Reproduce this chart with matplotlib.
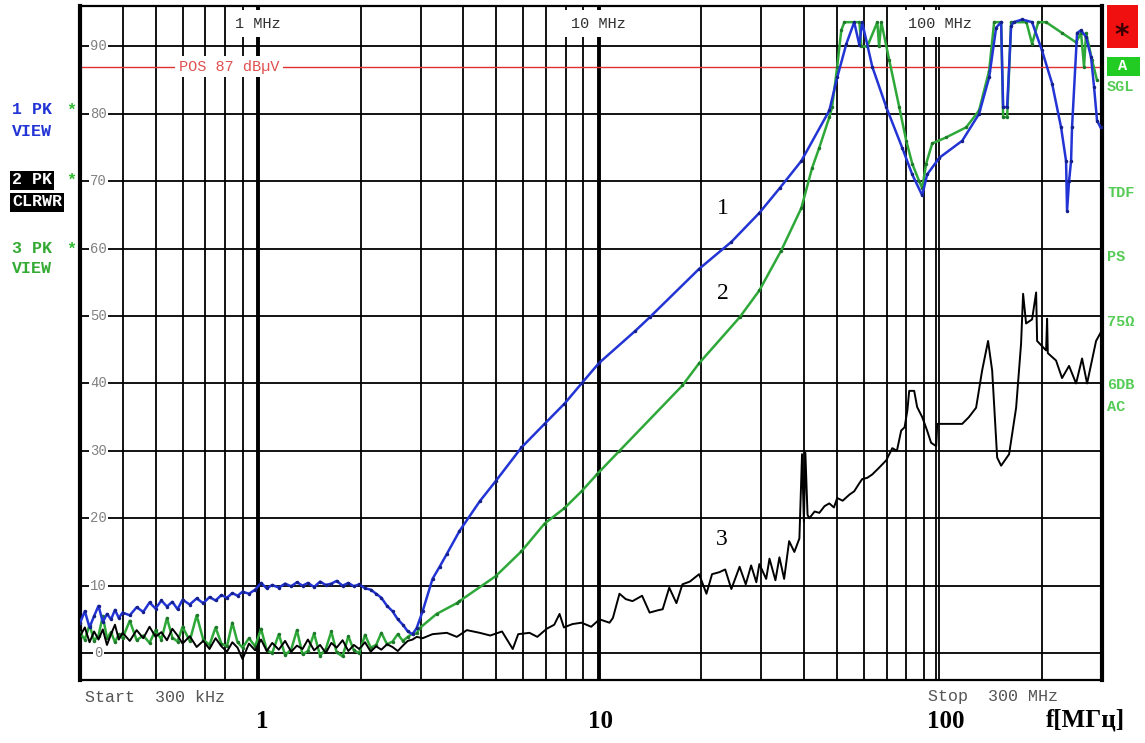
import matplotlib.pyplot as plt
from matplotlib.patches import Rectangle

# ---- trace data (frequency in MHz, level in dBuV) ----
f_low = [0.30, 0.31, 0.32, 0.33, 0.34, 0.35, 0.36, 0.37, 0.38, 0.39, 0.40, 0.42,
         0.44, 0.46, 0.48, 0.50, 0.52, 0.54, 0.56, 0.58, 0.60, 0.63, 0.66, 0.69,
         0.72, 0.75, 0.78, 0.81, 0.84, 0.87, 0.90, 0.94, 0.98, 1.02, 1.06, 1.10,
         1.15, 1.20, 1.25, 1.30, 1.35, 1.40, 1.46, 1.52, 1.58, 1.64, 1.70, 1.77,
         1.84, 1.91, 1.98, 2.06, 2.14, 2.22, 2.30, 2.39, 2.48, 2.57, 2.66, 2.75, 2.84]

blue_low = [4.5, 6.2, 3.8, 5.5, 7.0, 4.6, 5.8, 5.0, 6.4, 5.2, 6.0, 5.6,
            6.8, 6.1, 7.5, 6.6, 7.8, 6.9, 7.6, 6.5, 7.9, 7.2, 8.1, 7.4,
            8.3, 7.8, 8.6, 8.2, 8.9, 8.5, 9.1, 8.8, 9.4, 10.4, 9.6, 10.1,
            9.7, 10.3, 9.9, 10.5, 10.0, 10.4, 9.8, 10.6, 10.1, 10.3, 10.7, 10.0,
            10.4, 9.9, 10.2, 9.6, 9.4, 8.8, 8.2, 7.0, 6.2, 5.0, 4.2, 3.2, 2.8]

green_low = [3.0, 2.0, 4.2, 1.8, 2.6, 5.5, 2.2, 3.1, 1.6, 2.8, 2.2, 4.8,
             1.9, 2.6, 1.5, 3.4, 2.0, 5.2, 2.3, 1.7, 3.9, 1.8, 5.6, 2.0,
             1.2, 3.8, 1.4, 1.0, 4.5, 1.6, 0.8, 2.2, 1.0, 3.6, 0.4, 0.0,
             2.8, -0.3, 0.5, 3.4, -0.2, 0.3, 2.9, -0.4, 0.6, 3.2, 0.1, -0.5,
             2.5, 0.4, 0.0, 2.7, 0.8, 1.2, 3.0, 1.3, 1.7, 2.8, 1.8, 2.4, 2.9]

black_low = [2.5, 3.8, 1.6, 3.2, 2.0, 3.5, 1.2, 2.8, 4.2, 2.0, 3.0, 1.8,
             3.4, 2.2, 3.9, 2.4, 3.1, 1.9, 3.6, 2.6, 1.4, 2.5, 0.9, 1.8,
             0.6, 2.2, 1.0, 0.2, 1.6, 0.8, -0.9, 1.4, 0.4, 2.0, 0.3, 1.5,
             0.5, 1.8, 0.2, 1.1, 0.6, 2.0, 0.4, 1.2, 0.0, 1.5, 0.8, 1.9,
             0.3, 1.2, 0.6, 1.6, 0.2, 1.0, 0.5, 1.3, 0.9, 0.3, 1.1, 1.8, 2.0]

f_blue = [2.92, 3.04, 3.25, 3.41, 3.58, 3.90, 4.47, 4.98, 5.93, 6.93, 7.93, 8.90,
          10.0, 12.8, 14.1, 19.7, 24.5, 29.6, 34.0, 39.3, 47.5, 50.1, 53.3, 56.2,
          58.2, 59.3, 63.5, 69.8, 77.7, 83.2, 89.0, 92.0, 100.0, 116.6, 130.7, 139.9,
          146.7, 151.7, 153.8, 158.0, 162.3, 165.0, 175.0, 187.0, 200.0, 214.1, 227.5, 235.3,
          236.9, 240.1, 243.4, 245.0, 253.5, 260.4, 269.4, 278.6, 284.3, 290.1, 297.0]
blue_high = [3.7, 6.2, 11.0, 12.8, 14.7, 18.1, 22.5, 25.5, 30.5, 34.0, 37.0, 40.0,
             43.0, 47.8, 49.8, 57.0, 61.0, 65.3, 69.0, 73.0, 80.5, 85.4, 90.4, 93.6,
             90.2, 93.6, 87.0, 81.0, 75.0, 71.0, 67.9, 71.0, 73.5, 76.0, 80.0, 85.4,
             92.8, 93.6, 81.0, 81.0, 93.0, 93.6, 94.0, 93.6, 89.4, 84.5, 78.0, 73.0,
             65.6, 70.0, 73.0, 78.0, 92.0, 92.4, 91.4, 88.4, 84.0, 79.0, 78.0]

f_green = [2.92, 2.98, 3.34, 3.83, 3.90, 4.98, 5.93, 6.93, 7.93, 8.90, 9.91, 11.5,
           17.6, 19.7, 25.9, 29.6, 34.3, 39.3, 42.3, 44.4, 47.5, 48.4, 50.1, 51.5,
           52.6, 58.2, 59.0, 61.4, 65.7, 66.5, 67.5, 71.2, 76.2, 79.9, 83.2, 87.2,
           89.0, 91.4, 95.2, 104.6, 119.8, 130.7, 139.9, 144.7, 151.7, 153.8, 158.0, 162.3,
           180.0, 187.0, 195.0, 205.6, 229.0, 251.8, 260.4, 265.7, 269.4, 280.5, 290.0]
green_high = [2.9, 3.7, 5.8, 7.4, 7.7, 11.4, 15.1, 19.2, 21.5, 24.0, 26.6, 30.0,
              39.7, 43.0, 49.8, 53.8, 59.7, 66.0, 72.0, 75.0, 79.5, 81.0, 87.0, 92.4,
              93.6, 93.6, 90.0, 90.0, 93.6, 90.0, 93.6, 88.0, 81.0, 76.0, 72.6, 70.0,
              69.0, 72.6, 75.6, 76.5, 78.0, 80.5, 86.4, 93.6, 93.6, 79.5, 79.5, 93.6,
              93.6, 90.4, 93.6, 93.6, 92.0, 90.6, 92.0, 87.0, 92.0, 88.0, 85.0]

f_black = [2.92, 3.04, 3.25, 3.58, 3.83, 4.1, 4.47, 4.8, 5.2, 5.59, 5.8, 6.26,
           6.6, 7.03, 7.4, 7.67, 7.9, 8.37, 8.9, 9.5, 10.05, 10.75, 11.0, 11.5,
           12.0, 12.56, 13.4, 14.1, 14.8, 15.4, 16.1, 16.9, 17.6, 18.5, 19.7, 20.7,
           21.5, 22.6, 23.5, 24.5, 25.9, 27.0, 28.0, 29.0, 29.6, 31.0, 31.7, 33.0,
           33.9, 35.0, 36.2, 37.5, 38.8, 39.5, 40.0, 40.4, 41.0, 41.5, 43.0, 44.4,
           46.0, 47.5, 49.0, 50.1, 52.0, 54.4, 56.2, 58.2, 59.3, 61.4, 63.5, 66.5,
           69.8, 72.7, 75.0, 77.2, 79.0, 80.5, 81.5, 84.3, 86.0, 89.0, 92.0, 94.5,
           97.8, 98.5, 104.6, 116.6, 122.0, 128.1, 133.4, 138.9, 142.8, 147.7, 151.7, 160.1,
           167.9, 173.6, 176.0, 179.6, 187.0, 192.2, 193.5, 205.6, 207.0, 208.0, 219.9, 229.0,
           240.1, 251.8, 262.2, 271.2, 284.3, 288.2, 297.0]
black_high = [2.4, 2.2, 2.8, 3.0, 2.4, 3.4, 3.0, 2.6, 3.2, 0.6, 2.8, 3.0,
              2.4, 3.6, 4.2, 5.8, 3.8, 4.3, 4.5, 3.9, 5.0, 4.5, 5.2, 8.8,
              8.0, 7.7, 8.5, 6.0, 6.3, 6.5, 9.7, 7.4, 10.2, 10.6, 11.7, 8.8,
              11.7, 12.0, 12.4, 9.5, 12.8, 10.2, 13.0, 10.5, 13.2, 11.0, 14.0, 10.8,
              14.2, 11.0, 16.6, 15.0, 17.0, 29.5, 19.5, 29.7, 20.5, 20.0, 21.0, 20.8,
              21.8, 22.2, 21.6, 23.0, 22.6, 23.5, 24.0, 25.2, 25.8, 26.0, 26.5, 27.5,
              28.6, 30.4, 30.0, 33.0, 33.5, 36.0, 38.9, 38.9, 36.5, 35.0, 33.0, 31.2,
              30.7, 34.0, 34.0, 34.0, 35.0, 36.4, 41.9, 46.3, 41.9, 29.0, 27.8, 29.5,
              36.4, 45.9, 53.3, 48.9, 49.5, 53.5, 46.3, 44.9, 49.6, 44.5, 43.4, 40.8,
              42.6, 40.0, 43.7, 40.0, 44.9, 46.3, 47.5]

minor_grid = [0.4, 0.5, 0.6, 0.7, 0.8, 0.9, 2, 3, 4, 5, 6, 7, 8, 9,
              20, 30, 40, 50, 60, 70, 80, 90, 98, 100, 200]
major_grid = [1, 10]
y_grid = [0, 10, 20, 30, 40, 50, 60, 70, 80, 90]
decades = [1, 10, 100]
ref_level = 87

BLUE = '#2234d4'
GREEN = '#2fa83a'
W, H = 1145, 743

fig = plt.figure(figsize=(W / 100, H / 100), dpi=100)
ax = fig.add_axes([80 / W, 63 / H, 1022 / W, 674 / H])
ax.set_xscale('log')
ax.set_xlim(0.3, 300)
ax.set_ylim(-4, 96)
ax.xaxis.set_major_locator(plt.NullLocator())
ax.xaxis.set_minor_locator(plt.NullLocator())
ax.yaxis.set_major_locator(plt.NullLocator())

for s in ['left', 'right']:
    ax.spines[s].set_linewidth(3)
for s in ['top', 'bottom']:
    ax.spines[s].set_linewidth(1.6)

for f in minor_grid:
    ax.axvline(f, color='black', lw=1.3, zorder=1)
for f in major_grid:
    ax.axvline(f, color='black', lw=2.8, zorder=1)
for v in y_grid:
    ax.axhline(v, color='black', lw=1.3, zorder=1)
    ax.text(0.34, v, str(v), color='#808080', fontsize=10, family='Liberation Mono',
            ha='center', va='center', zorder=2,
            bbox=dict(boxstyle='square,pad=0.1', fc='white', ec='none'))

ax.axhline(ref_level, color='#e03030', lw=1.0, zorder=2)
ax.text(0.82, ref_level, 'POS 87 dB\u00b5V', color='#e05050', fontsize=11,
        family='Liberation Mono', ha='center', va='center', zorder=2,
        bbox=dict(boxstyle='square,pad=0.25', fc='white', ec='none'))

for d in decades:
    ax.text(d, 93.4, f'{d} MHz', color='#303030', fontsize=11, family='Liberation Mono',
            ha='center', va='center', zorder=2,
            bbox=dict(boxstyle='square,pad=0.4', fc='white', ec='none'))

# traces
ax.plot(f_low + f_green, green_low + green_high, color=GREEN, lw=1.8, zorder=3,
        marker='.', ms=3, mec='#1e7a2a', mfc='#1e7a2a')
ax.plot(f_low + f_black, black_low + black_high, color='black', lw=1.4, zorder=4)
ax.plot(f_low + f_blue, blue_low + blue_high, color=BLUE, lw=1.8, zorder=5,
        marker='.', ms=3, mec='#15208a', mfc='#15208a')

ax.text(23.1, 65.9, '1', fontsize=17, family='Liberation Serif', ha='center', va='center', zorder=6)
ax.text(23.1, 53.4, '2', fontsize=17, family='Liberation Serif', ha='center', va='center', zorder=6)
ax.text(22.9, 16.8, '3', fontsize=17, family='Liberation Serif', ha='center', va='center', zorder=6)

# text around the screen
mono = dict(family='Liberation Mono', fontsize=12, fontweight='bold')
fig.text(85 / W, 1 - 697 / H, 'Start  300 kHz', color='#555555', va='center',
         family='Liberation Mono', fontsize=12)
fig.text(928 / W, 1 - 697 / H, 'Stop  300 MHz', color='#555555', va='center',
         family='Liberation Mono', fontsize=12)

fig.text(12 / W, 1 - 110 / H, '1 PK', color=BLUE, va='center', **mono)
fig.text(66 / W, 1 - 110 / H, '*', color='#33bb33', va='center', **mono)
fig.text(12 / W, 1 - 131 / H, 'VIEW', color=BLUE, va='center', **mono)
fig.text(12 / W, 1 - 180 / H, '2 PK', color='white', va='center',
         bbox=dict(boxstyle='square,pad=0.12', fc='black', ec='none'), **mono)
fig.text(66 / W, 1 - 180 / H, '*', color='#33bb33', va='center', **mono)
fig.text(12 / W, 1 - 202 / H, 'CLRWR', color='white', va='center',
         bbox=dict(boxstyle='square,pad=0.12', fc='black', ec='none'), **mono)
fig.text(12 / W, 1 - 249 / H, '3 PK', color='#33aa33', va='center', **mono)
fig.text(66 / W, 1 - 249 / H, '*', color='#33bb33', va='center', **mono)
fig.text(12 / W, 1 - 268 / H, 'VIEW', color='#33aa33', va='center', **mono)

fig.patches.append(Rectangle((1107 / W, 1 - 48 / H), 31 / W, 43 / H, fc='#f01010', ec='none',
                             transform=fig.transFigure, figure=fig))
fig.text(1122 / W, 1 - 36 / H, '*', color='#3a0000', fontsize=20, fontweight='bold',
         ha='center', va='center')
fig.patches.append(Rectangle((1107 / W, 1 - 76 / H), 33 / W, 19 / H, fc='#22cc22', ec='none',
                             transform=fig.transFigure, figure=fig))
fig.text(1123 / W, 1 - 66 / H, 'A', color='white', ha='center', va='center',
         family='Liberation Mono', fontsize=11, fontweight='bold')
for label, ypx in [('SGL', 87), ('TDF', 193), ('PS', 257), ('75\u03a9', 322), ('6DB', 385), ('AC', 407)]:
    fig.text(1107 / W, 1 - ypx / H, label, color='#55cc55', va='center',
             family='Liberation Mono', fontsize=11, fontweight='bold')

# bottom axis labels
serif_b = dict(family='Liberation Serif', fontsize=18, fontweight='bold')
fig.text(262 / W, 1 - 722 / H, '1', ha='center', va='center', **serif_b)
fig.text(600 / W, 1 - 722 / H, '10', ha='center', va='center', **serif_b)
fig.text(946 / W, 1 - 722 / H, '100', ha='center', va='center', **serif_b)
fig.text(1085 / W, 1 - 720 / H, 'f[МГц]', ha='center', va='center', **serif_b)

fig.savefig('out.png', dpi=100)
